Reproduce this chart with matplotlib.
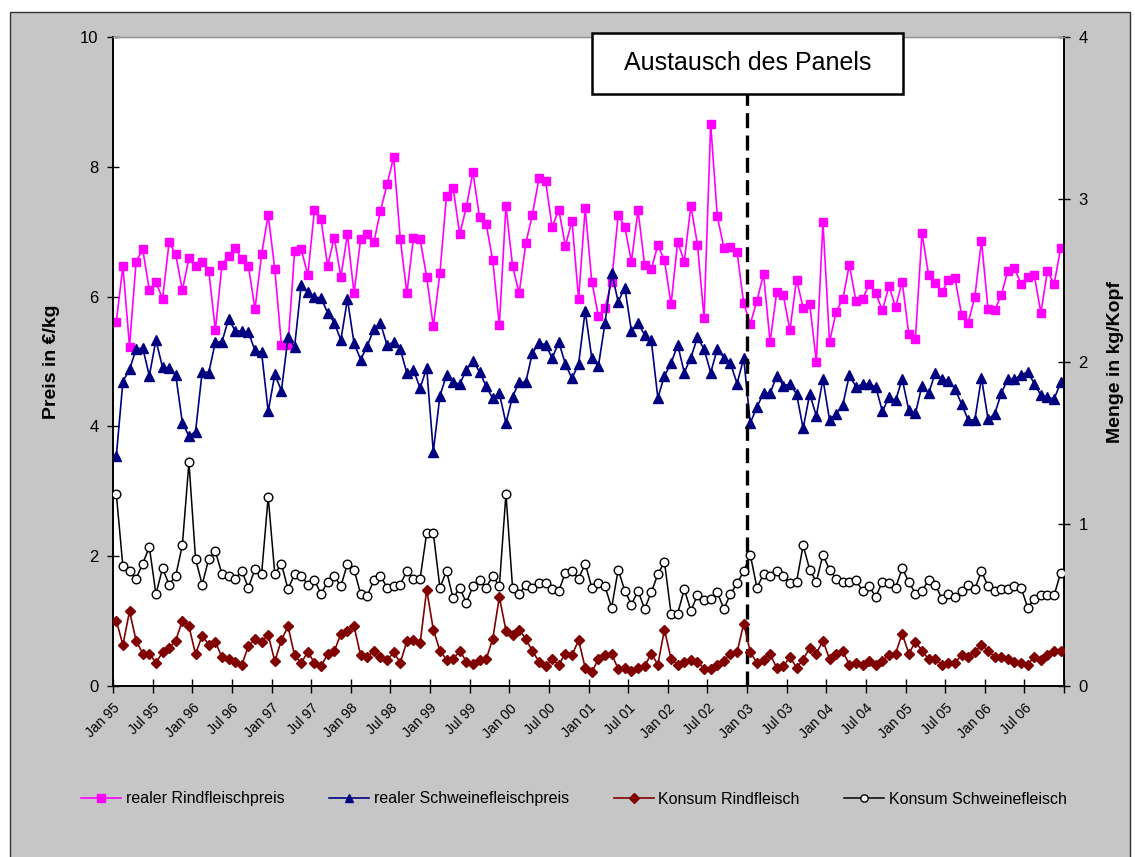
import matplotlib
matplotlib.use("Agg")
import matplotlib.pyplot as plt
from matplotlib.patches import Rectangle
import numpy as np

plt.rcParams['font.family'] = ['Liberation Sans', 'DejaVu Sans']

# Monthly series, Jan 1995 - Dec 2006
rind_preis = [
    5.61, 6.47, 5.23, 6.54, 6.73, 6.10, 6.23, 5.96, 6.84, 6.65, 6.10, 6.59,
    6.47, 6.54, 6.40, 5.48, 6.49, 6.63, 6.75, 6.58, 6.47, 5.81, 6.65, 7.26,
    6.42, 5.26, 5.25, 6.70, 6.73, 6.33, 7.33, 7.19, 6.47, 6.91, 6.30, 6.96,
    6.05, 6.89, 6.96, 6.84, 7.32, 7.73, 8.15, 6.89, 6.05, 6.91, 6.89, 6.30,
    5.54, 6.36, 7.55, 7.68, 6.96, 7.38, 7.92, 7.22, 7.12, 6.56, 5.56, 7.40,
    6.47, 6.05, 6.82, 7.26, 7.82, 7.78, 7.07, 7.34, 6.78, 7.17, 5.96, 7.36,
    6.23, 5.70, 5.83, 6.23, 7.26, 7.07, 6.54, 7.33, 6.49, 6.42, 6.79, 6.56,
    5.88, 6.84, 6.54, 7.40, 6.80, 5.67, 8.66, 7.24, 6.75, 6.77, 6.68, 5.90,
    5.58, 5.93, 6.35, 5.30, 6.07, 6.02, 5.48, 6.26, 5.83, 5.88, 5.00, 7.15,
    5.30, 5.77, 5.96, 6.49, 5.93, 5.96, 6.19, 6.05, 5.79, 6.16, 5.84, 6.23,
    5.42, 5.35, 6.98, 6.33, 6.21, 6.07, 6.25, 6.28, 5.72, 5.60, 6.00, 6.86,
    5.81, 5.79, 6.02, 6.40, 6.44, 6.19, 6.30, 6.33, 5.75, 6.40, 6.19, 6.75,
]
schwein_preis = [
    3.54, 4.69, 4.88, 5.19, 5.21, 4.78, 5.33, 4.91, 4.90, 4.79, 4.06, 3.85,
    3.92, 4.84, 4.83, 5.30, 5.30, 5.66, 5.47, 5.47, 5.45, 5.17, 5.14, 4.23,
    4.80, 4.55, 5.37, 5.23, 6.18, 6.07, 5.99, 5.98, 5.75, 5.60, 5.33, 5.96,
    5.28, 5.03, 5.24, 5.50, 5.59, 5.25, 5.30, 5.19, 4.82, 4.87, 4.59, 4.90,
    3.61, 4.47, 4.79, 4.68, 4.65, 4.87, 5.01, 4.84, 4.62, 4.43, 4.51, 4.05,
    4.46, 4.68, 4.68, 5.13, 5.28, 5.26, 5.05, 5.30, 4.96, 4.74, 4.96, 5.78,
    5.05, 4.93, 5.59, 6.37, 5.92, 6.14, 5.47, 5.59, 5.41, 5.33, 4.44, 4.78,
    4.97, 5.26, 4.83, 5.06, 5.37, 5.19, 4.83, 5.19, 5.06, 4.97, 4.66, 5.05,
    4.05, 4.30, 4.51, 4.51, 4.78, 4.63, 4.65, 4.50, 3.97, 4.50, 4.16, 4.73,
    4.10, 4.19, 4.33, 4.79, 4.61, 4.65, 4.65, 4.61, 4.23, 4.45, 4.40, 4.73,
    4.25, 4.20, 4.63, 4.51, 4.82, 4.73, 4.70, 4.58, 4.34, 4.10, 4.10, 4.75,
    4.11, 4.19, 4.51, 4.73, 4.73, 4.79, 4.84, 4.66, 4.48, 4.45, 4.42, 4.68,
]
konsum_rind = [
    0.403, 0.253, 0.460, 0.280, 0.200, 0.200, 0.143, 0.208, 0.233, 0.280, 0.403, 0.368,
    0.196, 0.311, 0.255, 0.272, 0.177, 0.167, 0.151, 0.130, 0.245, 0.290, 0.272, 0.315,
    0.153, 0.282, 0.368, 0.188, 0.143, 0.210, 0.143, 0.122, 0.196, 0.214, 0.321, 0.337,
    0.368, 0.188, 0.177, 0.218, 0.177, 0.159, 0.208, 0.143, 0.276, 0.282, 0.262, 0.594,
    0.348, 0.218, 0.163, 0.165, 0.218, 0.151, 0.134, 0.159, 0.165, 0.290, 0.549, 0.342,
    0.315, 0.348, 0.290, 0.216, 0.151, 0.122, 0.165, 0.132, 0.200, 0.190, 0.282, 0.113,
    0.085, 0.167, 0.190, 0.196, 0.106, 0.112, 0.095, 0.112, 0.122, 0.200, 0.132, 0.348,
    0.167, 0.132, 0.151, 0.159, 0.151, 0.106, 0.106, 0.132, 0.157, 0.200, 0.208, 0.385,
    0.208, 0.143, 0.163, 0.196, 0.112, 0.122, 0.180, 0.112, 0.163, 0.235, 0.200, 0.280,
    0.165, 0.196, 0.214, 0.132, 0.143, 0.132, 0.157, 0.132, 0.157, 0.190, 0.200, 0.323,
    0.200, 0.272, 0.218, 0.165, 0.165, 0.132, 0.143, 0.143, 0.190, 0.180, 0.210, 0.255,
    0.218, 0.180, 0.180, 0.165, 0.151, 0.143, 0.132, 0.180, 0.159, 0.188, 0.218, 0.214,
]
konsum_schwein = [
    1.183, 0.737, 0.707, 0.662, 0.754, 0.857, 0.567, 0.725, 0.625, 0.680, 0.867, 1.380,
    0.783, 0.625, 0.783, 0.830, 0.690, 0.680, 0.662, 0.709, 0.606, 0.721, 0.690, 1.166,
    0.690, 0.754, 0.596, 0.690, 0.680, 0.625, 0.653, 0.567, 0.643, 0.680, 0.614, 0.754,
    0.717, 0.567, 0.557, 0.651, 0.680, 0.606, 0.614, 0.625, 0.709, 0.662, 0.662, 0.943,
    0.943, 0.606, 0.709, 0.540, 0.606, 0.512, 0.614, 0.651, 0.606, 0.680, 0.614, 1.185,
    0.606, 0.567, 0.625, 0.606, 0.635, 0.635, 0.596, 0.586, 0.698, 0.707, 0.662, 0.754,
    0.606, 0.635, 0.614, 0.483, 0.717, 0.586, 0.502, 0.586, 0.475, 0.577, 0.688, 0.766,
    0.446, 0.446, 0.596, 0.465, 0.559, 0.530, 0.538, 0.577, 0.475, 0.567, 0.633, 0.707,
    0.809, 0.606, 0.688, 0.680, 0.709, 0.680, 0.635, 0.641, 0.867, 0.717, 0.643, 0.809,
    0.717, 0.662, 0.643, 0.641, 0.651, 0.586, 0.614, 0.549, 0.643, 0.633, 0.606, 0.725,
    0.643, 0.569, 0.586, 0.653, 0.625, 0.538, 0.567, 0.549, 0.586, 0.625, 0.596, 0.709,
    0.614, 0.586, 0.596, 0.596, 0.614, 0.606, 0.483, 0.538, 0.559, 0.559, 0.559, 0.698,
]

tick_labels = ["Jan 95", "Jul 95", "Jan 96", "Jul 96", "Jan 97", "Jul 97", "Jan 98", "Jul 98",
               "Jan 99", "Jul 99", "Jan 00", "Jul 00", "Jan 01", "Jul 01", "Jan 02", "Jul 02",
               "Jan 03", "Jul 03", "Jan 04", "Jul 04", "Jan 05", "Jul 05", "Jan 06", "Jul 06", ""]
panel_change = "Jan 03"

W, H = 1135, 857
fig = plt.figure(figsize=(W / 100, H / 100), dpi=100)
fig.patch.set_facecolor("white")

# grey chart area with its border (behind the axes)
fig.patches.append(Rectangle((10 / W, -0.01), (1130 - 10) / W, (H - 12) / H + 0.01,
                             transform=fig.transFigure, facecolor="#c6c6c6",
                             edgecolor="#333333", linewidth=1.0, zorder=-10))

L, R, T, B = 113, 1064, 37, 686
ax = fig.add_axes([L / W, 1 - B / H, (R - L) / W, (B - T) / H])
ax.set_facecolor("white")
ax2 = ax.twinx()

x = np.arange(len(rind_preis))

ax.plot(x, rind_preis, color="#ff00ff", lw=1.2, marker="s", ms=6,
        mfc="#ff00ff", mec="#ff00ff", label="realer Rindfleischpreis", zorder=3)
ax.plot(x, schwein_preis, color="#000080", lw=1.2, marker="^", ms=7.5,
        mfc="#000080", mec="#000080", label="realer Schweinefleischpreis", zorder=3)
ax2.plot(x, konsum_rind, color="#800000", lw=1.2, marker="D", ms=5.5,
         mfc="#800000", mec="#800000", label="Konsum Rindfleisch", zorder=3)
ax2.plot(x, konsum_schwein, color="black", lw=1.1, marker="o", ms=6.2,
         mfc="white", mec="black", mew=1.0, label="Konsum Schweinefleisch", zorder=3)

ax.set_xlim(-0.5, len(x) - 0.5)
ax.set_ylim(0, 10)
ax2.set_ylim(0, 4)

xt = np.arange(0, len(x) + 1, 6) - 0.5
ax.set_xticks(xt)
ax.set_xticklabels(tick_labels, rotation=45, ha="right", va="top",
                   rotation_mode="anchor", fontsize=10)
ax.set_yticks([0, 2, 4, 6, 8, 10])
ax2.set_yticks([0, 1, 2, 3, 4])

for a in (ax, ax2):
    a.tick_params(direction="inout", length=9, width=1, colors="black", labelsize=12)
ax.tick_params(axis="x", length=10, pad=6, labelsize=10)
ax.tick_params(axis="y", pad=6)
ax2.tick_params(axis="y", pad=6)

for a in (ax, ax2):
    for s in ("left", "right", "bottom"):
        a.spines[s].set_color("black")
        a.spines[s].set_linewidth(1.2)
    a.spines["top"].set_color("#999999")
    a.spines["top"].set_linewidth(1.0)

ax.set_ylabel("Preis in €/kg", fontsize=14, fontweight="bold", labelpad=14)
ax2.set_ylabel("Menge in kg/Kopf", fontsize=14, fontweight="bold", labelpad=14)

# panel change marker
xc = tick_labels.index(panel_change) * 6 - 0.5
ax.plot([xc, xc], [0, 9.12], color="black", lw=2.4, dashes=[4.5, 2.2],
        zorder=5, clip_on=False)
bx0, bx1, by0, by1 = 592, 903, 33, 94
fig.patches.append(Rectangle((bx0 / W, 1 - by1 / H), (bx1 - bx0) / W, (by1 - by0) / H,
                             transform=fig.transFigure, facecolor="white",
                             edgecolor="black", linewidth=1.8, zorder=10))
fig.text((bx0 + bx1) / 2 / W, 1 - (by0 + by1) / 2 / H, "Austausch des Panels",
         ha="center", va="center", fontsize=18, zorder=11)

h1, l1 = ax.get_legend_handles_labels()
h2, l2 = ax2.get_legend_handles_labels()
fig.legend(h1 + h2, l1 + l2, loc="center", bbox_to_anchor=(574 / W, 1 - 799 / H),
           ncol=4, frameon=False, fontsize=11.5, handlelength=2.5,
           columnspacing=2.8, handletextpad=0.3, markerscale=0.85)

fig.savefig("out.png", dpi=100, facecolor=fig.get_facecolor())
